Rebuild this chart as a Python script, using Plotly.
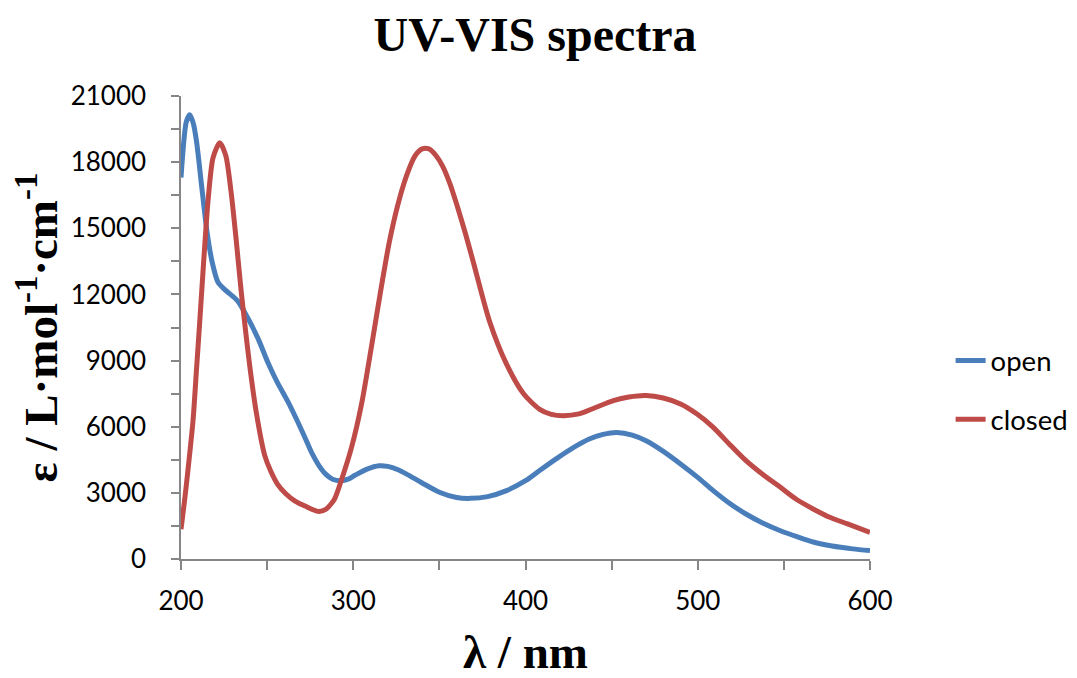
import plotly.graph_objects as go

wl_open = [200, 203, 205, 207, 209, 212, 215, 218, 221.5, 225, 228, 233, 239, 245, 250.5,
           256, 262, 267, 272, 276, 280, 284, 288, 293, 297, 301, 308, 315, 320, 326,
           331, 340, 350, 360, 368, 378, 389, 400, 408, 418, 428, 437, 445, 453, 462,
           470, 480, 490, 500, 509, 518, 528, 538, 548, 558, 567, 578, 590, 600]
eps_open = [17300, 19800, 20150, 19800, 18950, 16900, 14900, 13500, 12550, 12250, 12050,
            11700, 10900, 9950, 8900, 8000, 7150, 6350, 5500, 4800, 4250, 3850, 3620,
            3550, 3620, 3800, 4080, 4230, 4200, 4050, 3850, 3450, 3030, 2790, 2750, 2830,
            3100, 3550, 4000, 4550, 5060, 5440, 5650, 5740, 5620, 5360, 4880, 4310, 3700,
            3100, 2550, 2040, 1620, 1280, 1000, 770, 590, 460, 380]

wl_closed = [200, 202, 204, 207, 209, 211, 213, 215.7, 218.6, 222.5, 226, 229, 232, 235,
             238, 240, 243.7, 248.6, 252, 256, 261, 266, 272, 279.5, 284, 289, 293, 299,
             305, 310.5, 316, 321, 326, 331, 336, 340, 344, 348, 352, 356, 360, 365, 370,
             379, 389, 399, 408, 415, 422, 431, 440, 451, 460, 470, 480, 490, 500, 509,
             518, 528, 538, 548, 557, 567, 577, 587, 600]
eps_closed = [1350, 2600, 4000, 6300, 8600, 10900, 13300, 16250, 18200, 18880, 18300,
              16700, 14500, 12100, 10000, 8700, 6650, 4700, 4000, 3400, 2950, 2640, 2400,
              2160, 2250, 2700, 3550, 5060, 7100, 9600, 12200, 14400, 16100, 17400, 18300,
              18600, 18600, 18300, 17800, 17050, 16100, 14800, 13380, 10810, 8840, 7480,
              6800, 6560, 6500, 6580, 6850, 7180, 7350, 7420, 7300, 7030, 6550, 5970, 5240,
              4460, 3820, 3250, 2720, 2270, 1880, 1590, 1210]

x_ticks = [200, 300, 400, 500, 600]
y_ticks = [0, 3000, 6000, 9000, 12000, 15000, 18000, 21000]

fig = go.Figure()
fig.add_trace(go.Scatter(x=wl_open, y=eps_open, mode="lines", name="open",
                         legendgroup="a",
                         line=dict(color="#4A7EBB", width=5, shape="spline", smoothing=0.7)))
fig.add_trace(go.Scatter(x=wl_closed, y=eps_closed, mode="lines", name="closed",
                         legendgroup="b",
                         line=dict(color="#BE4B48", width=5, shape="spline", smoothing=0.7)))

W, H = 1069, 670
axis_color = "#868686"
fig.update_layout(
    width=W, height=H,
    margin=dict(l=173, r=207, t=88, b=119, autoexpand=False),
    paper_bgcolor="white", plot_bgcolor="white",
    title=dict(text="<b>UV-VIS spectra</b>", x=527 / W, xanchor="center",
               y=1 - 26 / H, yanchor="middle", yref="container",
               font=dict(family="Liberation Serif", size=48, color="black")),
    font=dict(family="Lato", size=26, color="black"),
    legend=dict(x=1.117, xanchor="left", y=0.365, yanchor="middle",
                traceorder="grouped", tracegroupgap=20,
                font=dict(family="Lato", size=27.5, color="black"),
                bgcolor="rgba(0,0,0,0)"),
    xaxis=dict(range=[200, 600], tickvals=x_ticks, ticktext=[str(v) for v in x_ticks],
               showgrid=False, zeroline=False, showline=True, linecolor=axis_color,
               linewidth=1.5, ticks="outside", ticklen=9, tickcolor=axis_color,
               tickwidth=1.5, ticklabelstandoff=9, automargin=False,
               minor=dict(dtick=50, ticks="outside", ticklen=9, tickcolor=axis_color,
                          tickwidth=1.5, showgrid=False),
               title=dict(text="<b>λ / nm</b>", standoff=21,
                          font=dict(family="Liberation Serif", size=47, color="black"))),
    yaxis=dict(range=[0, 21000], tickvals=y_ticks, ticktext=[str(v) for v in y_ticks],
               showgrid=False, zeroline=False, showline=True, linecolor=axis_color,
               linewidth=1.5, ticks="outside", ticklen=8, tickcolor=axis_color,
               tickwidth=1.5, ticklabelstandoff=20, automargin=False,
               minor=dict(dtick=1500, ticks="outside", ticklen=8, tickcolor=axis_color,
                          tickwidth=1.5, showgrid=False),
               title=dict(text="<b>ε / L·mol<sup>-1</sup>·cm<sup>-1</sup></b>", standoff=6,
                          font=dict(family="Liberation Serif", size=47, color="black"))),
)

fig.write_html("out.html")
